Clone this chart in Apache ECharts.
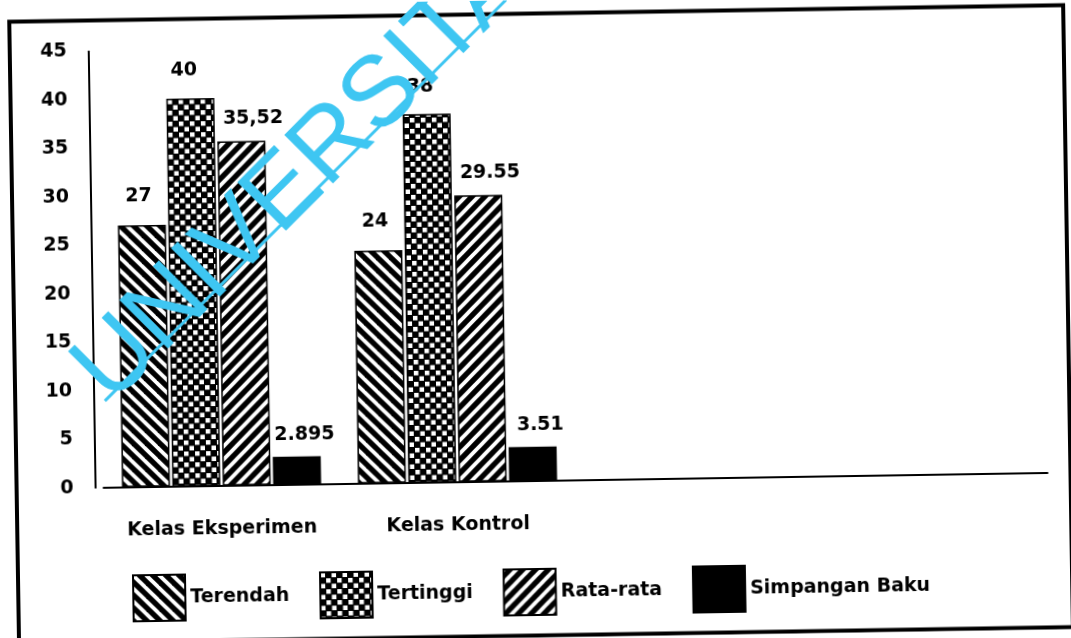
<!DOCTYPE html>
<html><head><meta charset="utf-8">
<script src="https://cdn.jsdelivr.net/npm/echarts@6/dist/echarts.min.js"></script>
<style>
html,body{margin:0;padding:0;background:#fff;overflow:hidden;}
#c{width:1071px;height:638px;transform:rotate(-0.9deg);transform-origin:535.5px 319px;}
</style></head><body><div id="c"></div>
<script>
// ---- data ----
const categories = ['Kelas Eksperimen', 'Kelas Kontrol', '', ''];
const seriesNames = ['Terendah', 'Tertinggi', 'Rata-rata', 'Simpangan Baku'];
const terendah = [27, 24];
const tertinggi = [40, 38];
const rataRata = [35.52, 29.55];
const simpanganBaku = [2.895, 3.51];
const labelsTerendah = ['27', '24'];
const labelsTertinggi = ['40', '38'];
const labelsRataRata = ['35,52', '29.55'];
const labelsSimpangan = ['2.895', '3.51'];
const yMin = 0, yMax = 45, yInterval = 5;

// ---- patterns ----
function stripePattern(dir) {
  const p = 13;
  const c = document.createElement('canvas');
  c.width = p; c.height = p;
  const g = c.getContext('2d');
  g.fillStyle = '#000'; g.fillRect(0, 0, p, p);
  g.strokeStyle = '#fff'; g.lineWidth = 3.8;
  for (let k = -1; k <= 2; k++) {
    g.beginPath();
    if (dir === 'back') { g.moveTo(-3, -3 + k * p); g.lineTo(p + 3, p + 3 + k * p); }
    else { g.moveTo(-3, k * p + 3); g.lineTo(p + 3, k * p - p - 3); }
    g.stroke();
  }
  return c;
}
function checkerPattern() {
  const s = 11;
  const c = document.createElement('canvas');
  c.width = s; c.height = s;
  const g = c.getContext('2d');
  g.fillStyle = '#000'; g.fillRect(0, 0, s, s);
  g.fillStyle = '#fff';
  g.fillRect(0.5, 0.5, 4.5, 4.5);
  g.fillRect(6, 6, 4.5, 4.5);
  return c;
}
const fills = [
  { image: stripePattern('back'), repeat: 'repeat' },
  { image: checkerPattern(), repeat: 'repeat' },
  { image: stripePattern('fwd'), repeat: 'repeat' },
  '#000'
];
const FONT = 'DejaVu Sans';
function mkSeries(i, data, labels, offset) {
  return {
    name: seriesNames[i], type: 'bar', data: data, barWidth: 48, barGap: '5%',
    itemStyle: { color: fills[i], borderColor: '#000', borderWidth: 1.5 },
    label: {
      show: true, position: 'top', offset: offset,
      formatter: p => labels[p.dataIndex],
      fontFamily: FONT, fontWeight: 'bold', fontSize: 19, color: '#000'
    }
  };
}

const chart = echarts.init(document.getElementById('c'), null, { renderer: 'canvas' });
chart.setOption({
  backgroundColor: '#fff',
  animation: false,
  grid: { left: 101, right: 26, top: 44.5, bottom: 157.3, containLabel: false, outerBoundsMode: 'none' },
  legend: {
    left: 123, top: 563, itemWidth: 52, itemHeight: 46, itemGap: 30, icon: 'rect',
    data: seriesNames,
    textStyle: { fontFamily: FONT, fontWeight: 'bold', fontSize: 19, color: '#000' }
  },
  xAxis: {
    type: 'category', data: categories,
    axisLine: { show: true, lineStyle: { color: '#000', width: 2 } },
    axisTick: { show: false },
    axisLabel: { interval: 0, margin: 34, fontFamily: FONT, fontWeight: 'bold', fontSize: 19, color: '#000' }
  },
  yAxis: {
    type: 'value', min: yMin, max: yMax, interval: yInterval, offset: 8,
    axisLine: { show: true, lineStyle: { color: '#000', width: 2 } },
    axisTick: { show: false },
    splitLine: { show: false },
    axisLabel: { margin: 22, fontFamily: FONT, fontWeight: 'bold', fontSize: 19, color: '#000' }
  },
  series: [
    mkSeries(0, terendah, labelsTerendah, [-3, -14]),
    mkSeries(1, tertinggi, labelsTertinggi, [-6, -13]),
    mkSeries(2, rataRata, labelsRataRata, [12, -8]),
    mkSeries(3, simpanganBaku, labelsSimpangan, [8, -7])
  ],
  graphic: [
    { type: 'rect', z: 50, silent: true,
      shape: { x: 14, y: 13.5, width: 1054, height: 622 },
      style: { fill: 'none', stroke: '#000', lineWidth: 4 } },
    { type: 'line', z: 100, silent: true,
      shape: { x1: 103.7, y1: 394.2, x2: 511, y2: -0.5 },
      style: { stroke: '#3ec6f2', lineWidth: 3 } },
    { type: 'text', z: 100, silent: true,
      x: 90.7, y: 378.9, rotation: 0.7697,
      style: { text: 'UNIVERSITAS', fontSize: 100, fontFamily: 'Liberation Sans',
               fill: '#3ec6f2', align: 'left', verticalAlign: 'middle' } }
  ]
});
</script></body></html>
